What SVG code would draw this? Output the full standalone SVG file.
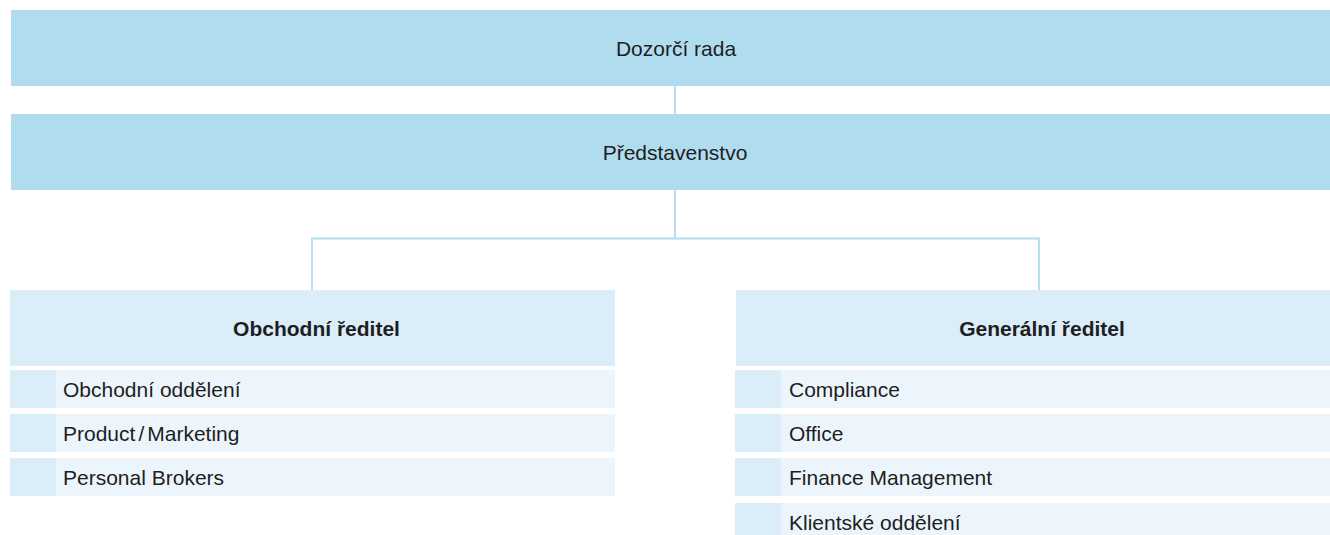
<svg xmlns="http://www.w3.org/2000/svg" width="1330" height="535" viewBox="0 0 1330 535">
<style>
.top{fill:#b0dcf0}
.head{fill:#dbedf9}
.row{fill:#edf5fc}
.tab{fill:#dbedf9}
.t{font-family:"Liberation Sans",Arial,sans-serif;font-size:21px;fill:#1e1e1e}
.c{text-anchor:middle}
.b{font-weight:bold}
.conn{fill:none;stroke:#b0dcf0;stroke-width:1.8}
</style>
<rect width="1330" height="535" fill="#ffffff"/>
<g id="connectors">
<line class="conn" x1="675" y1="86" x2="675" y2="114"/>
<polyline class="conn" points="675,190 675,238.5"/>
<polyline class="conn" points="312,290 312,238.5 1039,238.5 1039,290"/>
</g>
<g id="dozorci-rada">
<rect class="top" x="11" y="10" width="1319" height="76"/>
<text class="t c" x="676" y="56">Dozorčí rada</text>
</g>
<g id="predstavenstvo">
<rect class="top" x="11" y="114" width="1319" height="76"/>
<text class="t c" x="675" y="160">Představenstvo</text>
</g>
<g id="obchodni-reditel">
<rect class="head" x="10" y="290" width="605" height="76"/>
<text class="t c b" x="316.5" y="335.5">Obchodní ředitel</text>
</g>
<g id="obchodni-oddeleni">
<rect class="row" x="10" y="370" width="605" height="38"/>
<rect class="tab" x="10" y="370" width="46" height="38"/>
<text class="t" x="63" y="396.5">Obchodní oddělení</text>
</g>
<g id="product-marketing">
<rect class="row" x="10" y="414" width="605" height="38"/>
<rect class="tab" x="10" y="414" width="46" height="38"/>
<text class="t" x="63" y="440.5">Product<tspan dx="3">/</tspan><tspan dx="3">Marketing</tspan></text>
</g>
<g id="personal-brokers">
<rect class="row" x="10" y="458" width="605" height="38"/>
<rect class="tab" x="10" y="458" width="46" height="38"/>
<text class="t" x="63" y="484.5">Personal Brokers</text>
</g>
<g id="generalni-reditel">
<rect class="head" x="736" y="290" width="594" height="76"/>
<text class="t c b" x="1042" y="335.5">Generální ředitel</text>
</g>
<g id="compliance">
<rect class="row" x="735" y="370" width="595" height="38"/>
<rect class="tab" x="735" y="370" width="46" height="38"/>
<text class="t" x="789" y="396.5">Compliance</text>
</g>
<g id="office">
<rect class="row" x="735" y="414" width="595" height="38"/>
<rect class="tab" x="735" y="414" width="46" height="38"/>
<text class="t" x="789" y="440.5">Office</text>
</g>
<g id="finance-management">
<rect class="row" x="735" y="458" width="595" height="38"/>
<rect class="tab" x="735" y="458" width="46" height="38"/>
<text class="t" x="789" y="484.5">Finance Management</text>
</g>
<g id="klientske-oddeleni">
<rect class="row" x="735" y="503" width="595" height="38"/>
<rect class="tab" x="735" y="503" width="46" height="38"/>
<text class="t" x="789" y="529.5">Klientské oddělení</text>
</g>
</svg>
